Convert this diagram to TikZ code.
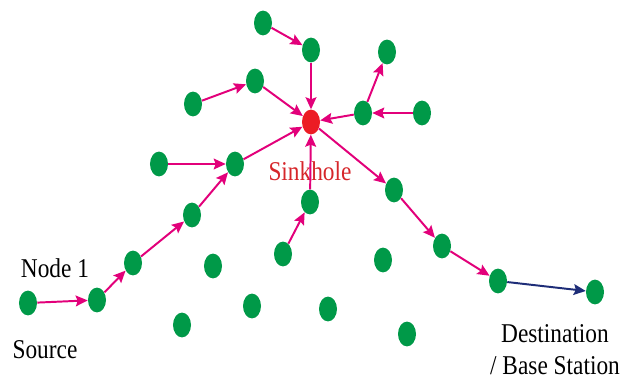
\documentclass[tikz,border=0pt]{standalone}
\usepackage{fontspec}
\usepackage{graphicx}
\setmainfont{Liberation Serif}
\usetikzlibrary{arrows.meta,shapes.geometric}
\definecolor{sensorgreen}{RGB}{0,153,72}
\definecolor{sinkred}{RGB}{236,28,36}
\definecolor{sinktext}{RGB}{214,38,42}
\definecolor{routepink}{RGB}{226,0,122}
\definecolor{basenavy}{RGB}{30,45,120}
\newcommand{\narrowtext}[1]{\scalebox{0.86}[1]{#1}}

\begin{document}
\begin{tikzpicture}[
  x=0.025cm, y=-0.025cm,
  sensor/.style={ellipse, fill=sensorgreen, inner sep=0pt, minimum width=0.45cm, minimum height=0.62cm},
  sinknode/.style={sensor, fill=sinkred},
  arrow/.style={-{Stealth[length=3mm, width=2.7mm, inset=0.5mm]}, line width=1.4pt, draw=routepink},
  basearrow/.style={arrow, draw=basenavy},
  lbl/.style={font=\fontsize{19.3}{22}\selectfont, anchor=base, inner sep=0pt}
]
\useasboundingbox (0,0) rectangle (632,381);

\node[sensor] (src) at (28,303) {};
\node[sensor] (n1) at (97,300) {};
\node[sensor] (r1) at (133,263) {};
\node[sensor] (r2) at (192,215) {};
\node[sensor] (r3) at (235,164) {};
\node[sensor] (a1) at (159,164) {};
\node[sensor] (b1) at (193,104) {};
\node[sensor] (b2) at (255,81) {};
\node[sensor] (c1) at (263,23) {};
\node[sensor] (c2) at (311,50) {};
\node[sinknode] (sink) at (311,122) {};
\node[sensor] (d1) at (363,113) {};
\node[sensor] (d2) at (422,113) {};
\node[sensor] (d3) at (387,52) {};
\node[sensor] (e1) at (283,254) {};
\node[sensor] (e2) at (310,202) {};
\node[sensor] (f1) at (394,190) {};
\node[sensor] (f2) at (442,246) {};
\node[sensor] (f3) at (498,281) {};
\node[sensor] (dest) at (595,292) {};

\node[sensor] (idle1) at (213,266) {};
\node[sensor] (idle2) at (182,325) {};
\node[sensor] (idle3) at (252,306) {};
\node[sensor] (idle4) at (328,309) {};
\node[sensor] (idle5) at (383,260) {};
\node[sensor] (idle6) at (407,334) {};

\node[lbl] (nodeone) at (55,277) {\narrowtext{Node 1}};
\node[lbl] (source) at (45,358) {\narrowtext{Source}};
\node[lbl, text=sinktext] (sinklabel) at (310,180) {\narrowtext{Sinkhole}};
\node[lbl] (destlabel) at (555,342) {\narrowtext{Destination}};
\node[lbl] (baselabel) at (555,374) {\narrowtext{/ Base Station}};

\draw[arrow] (src) -- (n1);
\draw[arrow] (n1) -- (r1);
\draw[arrow] (r1) -- (r2);
\draw[arrow] (r2) -- (r3);
\draw[arrow] (a1) -- (r3);
\draw[arrow] (r3) -- (sink);
\draw[arrow] (b1) -- (b2);
\draw[arrow] (b2) -- (sink);
\draw[arrow] (c1) -- (c2);
\draw[arrow] (c2) -- (sink);
\draw[arrow] (d2) -- (d1);
\draw[arrow] (d1) -- (sink);
\draw[arrow] (d1) -- (d3);
\draw[arrow] (e1) -- (e2);
\draw[arrow] (e2) -- (sink);
\draw[arrow] (sink) -- (f1);
\draw[arrow] (f1) -- (f2);
\draw[arrow] (f2) -- (f3);
\draw[basearrow] (f3) -- (dest);

\end{tikzpicture}
\end{document}
